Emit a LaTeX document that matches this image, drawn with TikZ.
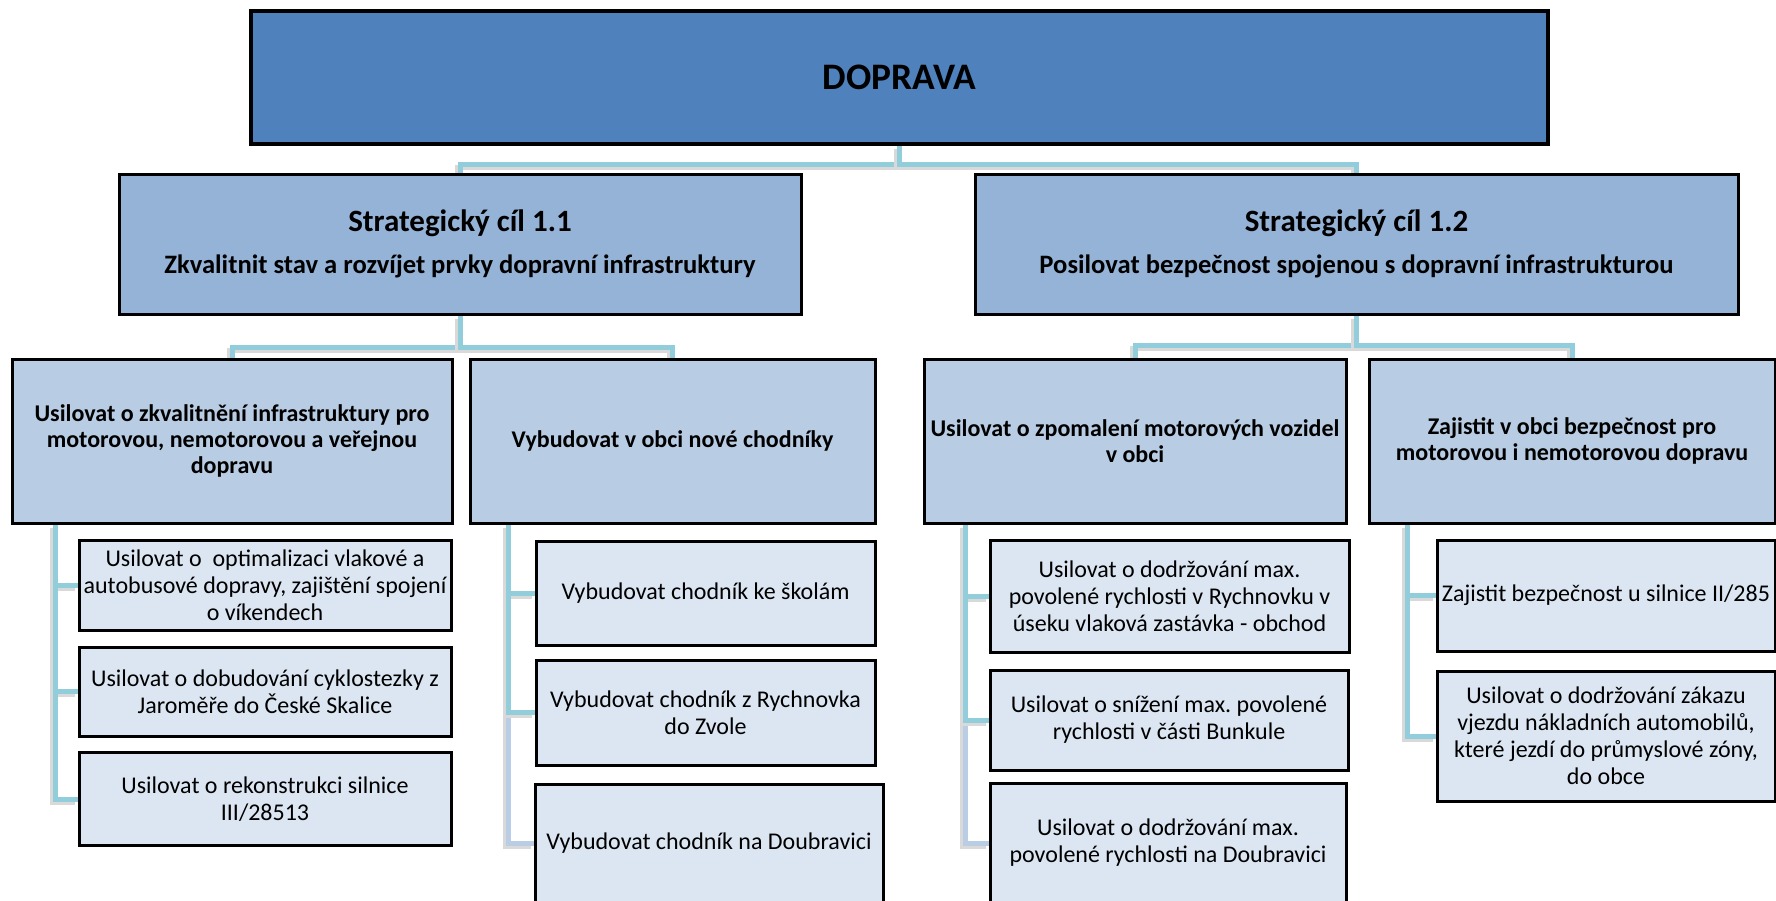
\documentclass[tikz,border=0pt]{standalone}
\usepackage{fontspec}
\setmainfont{Carlito}
\usetikzlibrary{positioning}

\definecolor{dopblue}{HTML}{4F81BD}
\definecolor{goalblue}{HTML}{95B3D7}
\definecolor{opblue}{HTML}{B8CCE4}
\definecolor{taskblue}{HTML}{DCE6F2}
\definecolor{linkteal}{HTML}{92CDDC}
\definecolor{linksteel}{HTML}{B9CDE5}

\pgfdeclarelayer{bg}
\pgfsetlayers{bg,main}

\tikzset{
  box/.style = {draw = black, line width = 1.5pt, align = center, inner sep = 2pt},
  topbox/.style = {box, fill = dopblue, line width = 2pt,
    font = \fontsize{18.7}{22}\selectfont\bfseries},
  goalbox/.style = {box, fill = goalblue,
    font = \fontsize{13.3}{20.75}\selectfont\bfseries},
  opbox/.style = {box, fill = opblue,
    font = \fontsize{12}{13}\selectfont\bfseries},
  taskbox/.style = {box, fill = taskblue,
    font = \fontsize{12}{13.5}\selectfont},
  link/.style = {draw = linkteal, line width = 2.5pt,
    preaction = {draw = black!15, line width = 2.5pt,
      transform canvas = {xshift = -1.5pt, yshift = -1.5pt}}}
}

\newcommand{\goalhead}[1]{{\fontsize{15.5}{20.75}\selectfont #1}}

\begin{document}
\frenchspacing
\begin{tikzpicture}[x = 0.5pt, y = -0.5pt]
	\useasboundingbox (0, 0) rectangle (1776, 900);

	% hlavni oblast
	\node [topbox, minimum width = 648.5pt, minimum height = 66.5pt] (dop) at (899.5, 77.5) {DOPRAVA};

	% strategicke cile
	\node [goalbox, minimum width = 341pt, minimum height = 70pt] (sc1) at (460, 244)
		{\goalhead{Strategický cíl 1.1}\\Zkvalitnit stav a rozvíjet prvky dopravní infrastruktury};
	\node [goalbox, minimum width = 381.5pt, minimum height = 70pt] (sc2) at (1356.5, 244)
		{\goalhead{Strategický cíl 1.2}\\Posilovat bezpečnost spojenou s dopravní infrastrukturou};

	% opatreni
	\node [opbox, minimum width = 220pt, minimum height = 82pt] (opA) at (232, 441)
		{Usilovat o zkvalitnění infrastruktury pro\\motorovou, nemotorovou a veřejnou\\dopravu};
	\node [opbox, minimum width = 202.5pt, minimum height = 82pt] (opB) at (672.5, 441)
		{Vybudovat v obci nové chodníky};
	\node [opbox, minimum width = 211pt, minimum height = 82pt] (opC) at (1135, 441)
		{Usilovat o zpomalení motorových vozidel\\v obci};
	\node [opbox, minimum width = 203pt, minimum height = 82pt] (opD) at (1572, 441)
		{Zajistit v obci bezpečnost pro\\motorovou i nemotorovou dopravu};

	% aktivity
	\node [taskbox, minimum width = 186pt, minimum height = 45pt] (A1) at (265, 585)
		{Usilovat o~ optimalizaci vlakové a\\autobusové dopravy, zajištění spojení\\o víkendech};
	\node [taskbox, minimum width = 186pt, minimum height = 44.5pt] (A2) at (265, 691.5)
		{Usilovat o dobudování cyklostezky z\\Jaroměře do České Skalice};
	\node [taskbox, minimum width = 186pt, minimum height = 46.75pt] (A3) at (265, 799)
		{Usilovat o rekonstrukci silnice\\III/28513};

	\node [taskbox, minimum width = 169.5pt, minimum height = 52pt] (B1) at (705.5, 593)
		{Vybudovat chodník ke školám};
	\node [taskbox, minimum width = 169.5pt, minimum height = 52.5pt] (B2) at (705.5, 712.5)
		{Vybudovat chodník z Rychnovka\\do Zvole};
	\node [taskbox, minimum width = 174pt, minimum height = 59.5pt] (B3) at (709, 843.5)
		{Vybudovat chodník na Doubravici};

	\node [taskbox, minimum width = 179.5pt, minimum height = 56pt] (C1) at (1169.5, 596)
		{Usilovat o dodržování max.\\povolené rychlosti v Rychnovku v\\úseku vlaková zastávka - obchod};
	\node [taskbox, minimum width = 179pt, minimum height = 50pt] (C2) at (1169, 720)
		{Usilovat o snížení max. povolené\\rychlosti v části Bunkule};
	\node [taskbox, minimum width = 178pt, minimum height = 60pt] (C3) at (1168, 843)
		{Usilovat o dodržování max.\\povolené rychlosti na Doubravici};

	\node [taskbox, minimum width = 169pt, minimum height = 55.5pt] (D1) at (1606, 595.5)
		{Zajistit bezpečnost u silnice II/285};
	\node [taskbox, minimum width = 169pt, minimum height = 65pt] (D2) at (1606, 736)
		{Usilovat o dodržování zákazu\\vjezdu nákladních automobilů,\\které jezdí do průmyslové zóny,\\do obce};

	% spojnice
	\coordinate (a0) at ([xshift = 22.25pt] opA.south west);
	\coordinate (b0) at ([xshift = 20pt] opB.south west);
	\coordinate (c0) at ([xshift = 21.5pt] opC.south west);
	\coordinate (d0) at ([xshift = 20pt] opD.south west);

	\begin{pgfonlayer}{bg}
		\draw [link] (dop.south) -- ++(0, 18) -| (sc1.north);
		\draw [link] (dop.south) -- ++(0, 18) -| (sc2.north);
		\draw [link] (sc1.south) -- ++(0, 32) -| (opA.north);
		\draw [link] (sc1.south) -- ++(0, 32) -| (opB.north);
		\draw [link] (sc2.south) -- ++(0, 30) -| (opC.north);
		\draw [link] (sc2.south) -- ++(0, 30) -| (opD.north);

		\draw [link, draw = linksteel] (b0) |- (B3.west);
		\draw [link, draw = linksteel] (c0) |- (C3.west);
		\foreach \t in {A1, A2, A3}
			\draw [link] (a0) |- (\t.west);
		\foreach \t in {B1, B2}
			\draw [link] (b0) |- (\t.west);
		\foreach \t in {C1, C2}
			\draw [link] (c0) |- (\t.west);
		\foreach \t in {D1, D2}
			\draw [link] (d0) |- (\t.west);
	\end{pgfonlayer}
\end{tikzpicture}
\end{document}
